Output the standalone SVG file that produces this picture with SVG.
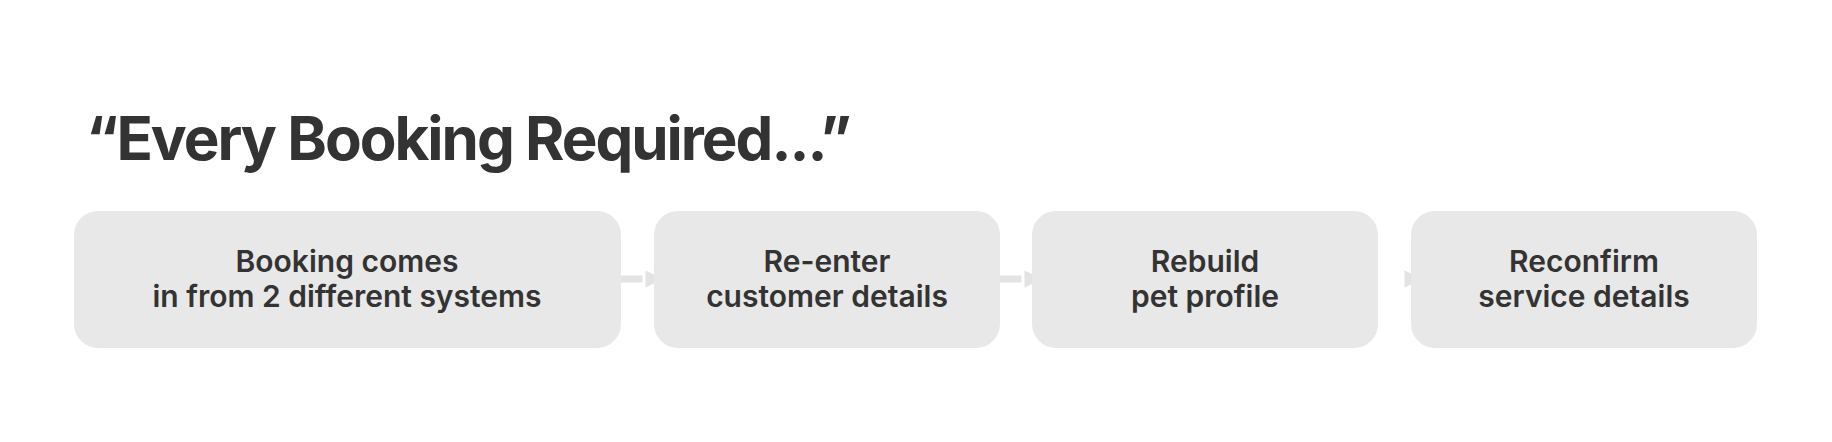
<svg xmlns="http://www.w3.org/2000/svg" width="1832" height="442" viewBox="0 0 1832 442">
<style>
.box{fill:#e8e8e8}
.t{font-family:Inter,"Liberation Sans",sans-serif;font-size:30px;font-weight:600;fill:#333;text-anchor:middle}
.ln{stroke:#e3e3e3;stroke-width:7;fill:none}
.ah{fill:#e3e3e3;stroke:#fff;stroke-width:3;stroke-linejoin:round}
</style>
<rect width="1832" height="442" fill="#fff"/>
<text x="86" y="160" font-family="Inter,'Liberation Sans',sans-serif" font-size="60" font-weight="700" fill="#333" letter-spacing="-2">“Every Booking Required...”</text>
<g id="connectors">
<path class="ln" d="M621 279H646"/>
<path class="ah" d="M644 268L666 279L644 290Z"/>
<path class="ln" d="M1000 279H1024"/>
<path class="ah" d="M1023 268L1045 279L1023 290Z"/>
<path class="ah" d="M1403 268L1425 279L1403 290Z"/>
</g>
<g id="n1"><rect class="box" x="74" y="211" width="547" height="137" rx="24"/><text class="t" x="347" y="272">Booking comes</text><text class="t" x="347" y="307">in from 2 different systems</text></g>
<g id="n2"><rect class="box" x="654" y="211" width="346" height="137" rx="24"/><text class="t" x="827" y="272">Re-enter</text><text class="t" x="827" y="307">customer details</text></g>
<g id="n3"><rect class="box" x="1032" y="211" width="346" height="137" rx="24"/><text class="t" x="1205" y="272">Rebuild</text><text class="t" x="1205" y="307">pet profile</text></g>
<g id="n4"><rect class="box" x="1411" y="211" width="346" height="137" rx="24"/><text class="t" x="1584" y="272">Reconfirm</text><text class="t" x="1584" y="307">service details</text></g>
</svg>
